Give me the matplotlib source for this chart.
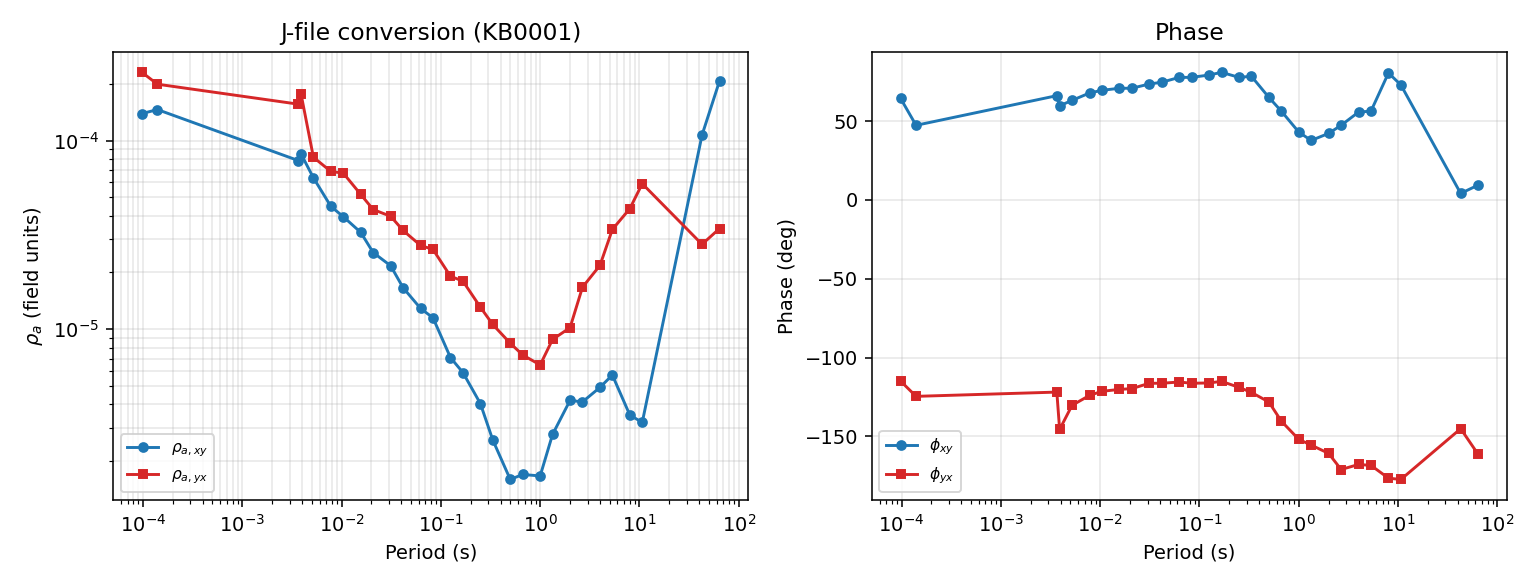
import matplotlib
matplotlib.use("Agg")
import matplotlib.pyplot as plt

# Periods (s)
period = [9.77e-5, 1.40e-4, 3.66e-3, 3.906e-3, 5.208e-3, 7.8125e-3, 1.0417e-2,
          1.5625e-2, 2.0833e-2, 3.125e-2, 4.1667e-2, 6.25e-2, 8.333e-2, 0.125,
          0.1667, 0.25, 0.3333, 0.5, 0.6667, 1.0, 1.333, 2.0, 2.667, 4.0, 5.333,
          8.0, 10.667, 42.67, 64.0]

rho_xy = [1.39e-4, 1.46e-4, 7.84e-5, 8.51e-5, 6.35e-5, 4.48e-5, 3.95e-5,
          3.26e-5, 2.55e-5, 2.17e-5, 1.66e-5, 1.29e-5, 1.15e-5, 7.08e-6,
          5.90e-6, 4.04e-6, 2.59e-6, 1.60e-6, 1.70e-6, 1.67e-6, 2.77e-6,
          4.20e-6, 4.12e-6, 4.92e-6, 5.72e-6, 3.51e-6, 3.21e-6, 1.07e-4, 2.07e-4]

rho_yx = [2.30e-4, 1.99e-4, 1.56e-4, 1.77e-4, 8.16e-5, 6.86e-5, 6.72e-5,
          5.18e-5, 4.31e-5, 3.97e-5, 3.34e-5, 2.78e-5, 2.65e-5, 1.91e-5,
          1.80e-5, 1.31e-5, 1.06e-5, 8.43e-6, 7.31e-6, 6.47e-6, 8.83e-6,
          1.02e-5, 1.67e-5, 2.18e-5, 3.38e-5, 4.36e-5, 5.91e-5, 2.82e-5, 3.42e-5]

phi_xy = [64.4, 47.3, 66.1, 59.7, 63.1, 67.8, 69.5, 70.8, 70.8, 73.5, 74.6,
          77.7, 77.7, 79.2, 80.9, 77.7, 78.4, 65.0, 56.3, 43.0, 37.7, 42.2,
          47.3, 55.7, 56.3, 80.5, 72.9, 4.1, 9.4]

phi_yx = [-114.9, -124.6, -121.9, -145.6, -130.3, -124.0, -121.4, -120.2,
          -119.7, -116.3, -116.3, -115.5, -116.3, -116.1, -115.1, -118.9,
          -122.1, -128.2, -140.3, -151.9, -155.5, -160.8, -171.0, -167.8,
          -168.4, -176.5, -177.3, -145.1, -161.4]

blue = "#1f77b4"
red = "#d62728"

fig, (ax1, ax2) = plt.subplots(1, 2, figsize=(11, 4.2), dpi=140)
fig.subplots_adjust(left=0.0734, right=0.9786, bottom=0.150, top=0.9116, wspace=0.194)

ax1.loglog(period, rho_xy, "-o", color=blue, ms=4.5, lw=1.5, label=r"$\rho_{a,xy}$")
ax1.loglog(period, rho_yx, "-s", color=red, ms=4.5, lw=1.5, label=r"$\rho_{a,yx}$")
ax1.set_xlabel("Period (s)")
ax1.set_ylabel(r"$\rho_a$ (field units)")
ax1.set_title("J-file conversion (KB0001)")
ax1.grid(True, which="both", alpha=0.3)
ax1.legend(loc="lower left", fontsize=8)

ax2.semilogx(period, phi_xy, "-o", color=blue, ms=4.5, lw=1.5, label=r"$\phi_{xy}$")
ax2.semilogx(period, phi_yx, "-s", color=red, ms=4.5, lw=1.5, label=r"$\phi_{yx}$")
ax2.set_xlabel("Period (s)")
ax2.set_ylabel("Phase (deg)")
ax2.set_title("Phase")
ax2.grid(True, alpha=0.3)
ax2.legend(loc="lower left", fontsize=8)

fig.savefig("out.png", dpi=140)
